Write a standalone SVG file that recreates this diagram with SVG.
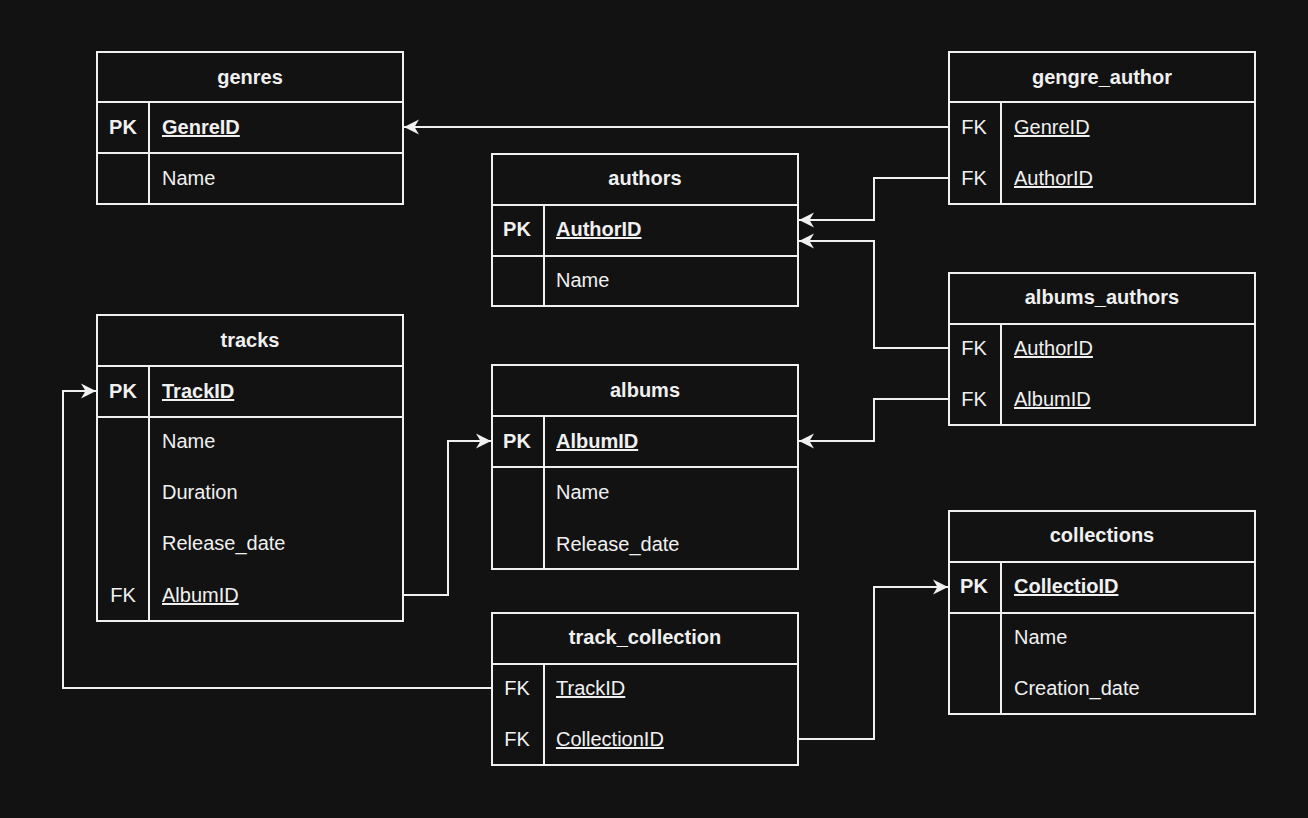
<svg xmlns="http://www.w3.org/2000/svg" width="1308" height="818" viewBox="0 0 1308 818">
<defs>
<marker id="arr" markerUnits="userSpaceOnUse" markerWidth="18" markerHeight="16" refX="15" refY="8" orient="auto">
<path d="M0,0.5 L15,8 L0,15.5 L4.5,8 Z" fill="#f0f0f0"/>
</marker>
</defs>
<style>
.bg{fill:#121212}
.box{fill:#121212;stroke:#f0f0f0;stroke-width:2}
.ln{stroke:#f0f0f0;stroke-width:2;fill:none}
.t{font-family:"Liberation Sans",Arial,sans-serif;font-size:20px;fill:#f0f0f0}
.h{font-weight:bold;text-anchor:middle}
.k{font-weight:bold}
.c{text-anchor:middle}
.u{text-decoration:underline}
.e{stroke:#f0f0f0;stroke-width:2;fill:none;marker-end:url(#arr)}
</style>
<rect class="bg" x="0" y="0" width="1308" height="818"/>

<g id="genres">
<rect class="box" x="97" y="52" width="306" height="152"/>
<line class="ln" x1="97" y1="102" x2="403" y2="102"/>
<line class="ln" x1="97" y1="153" x2="403" y2="153"/>
<line class="ln" x1="149" y1="102" x2="149" y2="204"/>
<text class="t h" x="250" y="84">genres</text>
<text class="t k c" x="123" y="134">PK</text>
<text class="t k u" x="162" y="134">GenreID</text>
<text class="t" x="162" y="185">Name</text>
</g>

<g id="gengre_author">
<rect class="box" x="949" y="52" width="306" height="152"/>
<line class="ln" x1="949" y1="102" x2="1255" y2="102"/>
<line class="ln" x1="1001" y1="102" x2="1001" y2="204"/>
<text class="t h" x="1102" y="84">gengre_author</text>
<text class="t c" x="974" y="134">FK</text>
<text class="t u" x="1014" y="134">GenreID</text>
<text class="t c" x="974" y="185">FK</text>
<text class="t u" x="1014" y="185">AuthorID</text>
</g>

<g id="authors">
<rect class="box" x="492" y="154" width="306" height="152"/>
<line class="ln" x1="492" y1="205" x2="798" y2="205"/>
<line class="ln" x1="492" y1="256" x2="798" y2="256"/>
<line class="ln" x1="544" y1="205" x2="544" y2="306"/>
<text class="t h" x="645" y="185">authors</text>
<text class="t k c" x="517" y="236">PK</text>
<text class="t k u" x="556" y="236">AuthorID</text>
<text class="t" x="556" y="287">Name</text>
</g>

<g id="albums_authors">
<rect class="box" x="949" y="273" width="306" height="152"/>
<line class="ln" x1="949" y1="324" x2="1255" y2="324"/>
<line class="ln" x1="1001" y1="324" x2="1001" y2="425"/>
<text class="t h" x="1102" y="304">albums_authors</text>
<text class="t c" x="974" y="355">FK</text>
<text class="t u" x="1014" y="355">AuthorID</text>
<text class="t c" x="974" y="406">FK</text>
<text class="t u" x="1014" y="406">AlbumID</text>
</g>

<g id="tracks">
<rect class="box" x="97" y="315" width="306" height="306"/>
<line class="ln" x1="97" y1="366" x2="403" y2="366"/>
<line class="ln" x1="97" y1="417" x2="403" y2="417"/>
<line class="ln" x1="149" y1="366" x2="149" y2="621"/>
<text class="t h" x="250" y="347">tracks</text>
<text class="t k c" x="123" y="398">PK</text>
<text class="t k u" x="162" y="398">TrackID</text>
<text class="t" x="162" y="448">Name</text>
<text class="t" x="162" y="499">Duration</text>
<text class="t" x="162" y="550">Release_date</text>
<text class="t c" x="123" y="602">FK</text>
<text class="t u" x="162" y="602">AlbumID</text>
</g>

<g id="albums">
<rect class="box" x="492" y="365" width="306" height="204"/>
<line class="ln" x1="492" y1="416" x2="798" y2="416"/>
<line class="ln" x1="492" y1="467" x2="798" y2="467"/>
<line class="ln" x1="544" y1="416" x2="544" y2="569"/>
<text class="t h" x="645" y="397">albums</text>
<text class="t k c" x="517" y="448">PK</text>
<text class="t k u" x="556" y="448">AlbumID</text>
<text class="t" x="556" y="499">Name</text>
<text class="t" x="556" y="551">Release_date</text>
</g>

<g id="track_collection">
<rect class="box" x="492" y="613" width="306" height="152"/>
<line class="ln" x1="492" y1="664" x2="798" y2="664"/>
<line class="ln" x1="544" y1="664" x2="544" y2="765"/>
<text class="t h" x="645" y="644">track_collection</text>
<text class="t c" x="517" y="695">FK</text>
<text class="t u" x="556" y="695">TrackID</text>
<text class="t c" x="517" y="746">FK</text>
<text class="t u" x="556" y="746">CollectionID</text>
</g>

<g id="collections">
<rect class="box" x="949" y="511" width="306" height="203"/>
<line class="ln" x1="949" y1="562" x2="1255" y2="562"/>
<line class="ln" x1="949" y1="613" x2="1255" y2="613"/>
<line class="ln" x1="1001" y1="562" x2="1001" y2="714"/>
<text class="t h" x="1102" y="542">collections</text>
<text class="t k c" x="974" y="593">PK</text>
<text class="t k u" x="1014" y="593">CollectioID</text>
<text class="t" x="1014" y="644">Name</text>
<text class="t" x="1014" y="695">Creation_date</text>
</g>

<g id="connectors">
<path class="e" d="M949,127 L404,127"/>
<path class="e" d="M949,178 L874,178 L874,220 L799,220"/>
<path class="e" d="M949,348 L874,348 L874,241 L799,241"/>
<path class="e" d="M949,399 L874,399 L874,441 L799,441"/>
<path class="e" d="M403,595 L448,595 L448,441 L491,441"/>
<path class="e" d="M492,688 L63,688 L63,391 L96,391"/>
<path class="e" d="M798,739 L874,739 L874,587 L948,587"/>
</g>
</svg>
